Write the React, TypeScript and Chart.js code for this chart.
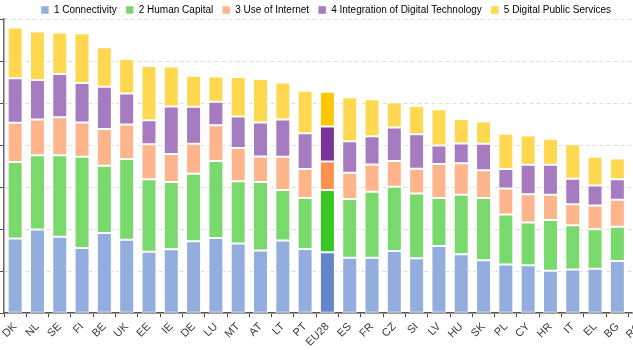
import React, { useEffect, useRef } from 'react';
import { Chart, registerables } from 'chart.js';

Chart.register(...registerables);

const categories = ['DK', 'NL', 'SE', 'FI', 'BE', 'UK', 'EE', 'IE', 'DE', 'LU', 'MT', 'AT', 'LT', 'PT', 'EU28', 'ES', 'FR', 'CZ', 'SI', 'LV', 'HU', 'SK', 'PL', 'CY', 'HR', 'IT', 'EL', 'BG', 'RO'];

const connectivity = [0.178, 0.199, 0.182, 0.155, 0.191, 0.175, 0.146, 0.152, 0.171, 0.179, 0.166, 0.149, 0.173, 0.153, 0.145, 0.132, 0.132, 0.148, 0.131, 0.160, 0.140, 0.126, 0.116, 0.114, 0.101, 0.104, 0.106, 0.124, 0.120];
const humanCapital = [0.182, 0.177, 0.194, 0.217, 0.160, 0.192, 0.173, 0.160, 0.161, 0.183, 0.148, 0.163, 0.120, 0.121, 0.148, 0.140, 0.157, 0.153, 0.154, 0.114, 0.142, 0.148, 0.119, 0.102, 0.121, 0.105, 0.094, 0.082, 0.070];
const useOfInternet = [0.093, 0.085, 0.090, 0.082, 0.087, 0.082, 0.083, 0.067, 0.071, 0.085, 0.079, 0.061, 0.079, 0.069, 0.068, 0.062, 0.065, 0.061, 0.059, 0.081, 0.075, 0.066, 0.062, 0.067, 0.060, 0.050, 0.056, 0.064, 0.050];
const integration = [0.106, 0.094, 0.103, 0.094, 0.101, 0.074, 0.057, 0.113, 0.088, 0.056, 0.075, 0.081, 0.089, 0.085, 0.083, 0.075, 0.067, 0.080, 0.082, 0.044, 0.047, 0.063, 0.046, 0.070, 0.071, 0.061, 0.048, 0.049, 0.040];
const publicServices = [0.121, 0.115, 0.099, 0.118, 0.094, 0.082, 0.129, 0.095, 0.074, 0.060, 0.094, 0.103, 0.088, 0.101, 0.083, 0.105, 0.088, 0.060, 0.067, 0.086, 0.058, 0.053, 0.084, 0.070, 0.062, 0.082, 0.068, 0.049, 0.040];

const seriesNames = ['1 Connectivity', '2 Human Capital', '3 Use of Internet', '4 Integration of Digital Technology', '5 Digital Public Services'];
const seriesValues = [connectivity, humanCapital, useOfInternet, integration, publicServices];
const baseColors = ['#93aede', '#7ad96c', '#ffb58b', '#a67bbf', '#ffd850'];
const highlightColors = ['#6386c9', '#39c824', '#ff924e', '#7c3396', '#ffc806'];
const highlightCategory = 'EU28';

const yMax = 0.7;
const yStep = 0.1;

const FONT = "Arial, 'Liberation Sans', Helvetica, sans-serif";

const legendFitPlugin = {
  id: 'legendFit',
  beforeLayout(chart: any) {
    const lg = chart.legend;
    if (lg && !lg.__patched) {
      const orig = lg.fit.bind(lg);
      lg.fit = function () {
        orig();
        this.height = 19;
      };
      lg.__patched = true;
    }
  },
  afterLayout(chart: any) {
    const lg = chart.legend;
    if (lg) {
      lg.top -= 4;
      lg.bottom -= 4;
    }
  },
};

export default function App() {
  const canvasRef = useRef<HTMLCanvasElement | null>(null);

  useEffect(() => {
    if (!canvasRef.current) return;
    Chart.defaults.font.family = FONT;
    const datasets = seriesNames.map((name, i) => ({
      label: name,
      data: seriesValues[i],
      backgroundColor: categories.map((c) => (c === highlightCategory ? highlightColors[i] : baseColors[i])),
      borderColor: '#ffffff',
      borderWidth: 1,
      borderSkipped: false as const,
      categoryPercentage: 0.8,
      barPercentage: 0.84,
    }));
    const chart = new Chart(canvasRef.current, {
      type: 'bar',
      data: { labels: categories, datasets },
      options: {
        animation: false,
        responsive: true,
        maintainAspectRatio: false,
        layout: { padding: 0 },
        plugins: {
          legend: {
            position: 'top',
            labels: {
              boxWidth: 8,
              boxHeight: 8,
              padding: 9,
              color: '#666',
              font: { size: 10, family: FONT },
              generateLabels: (ch: any) =>
                ch.data.datasets.map((ds: any, i: number) => ({
                  text: ds.label,
                  fillStyle: baseColors[i],
                  strokeStyle: '#ffffff',
                  lineWidth: 0.5,
                  hidden: false,
                  datasetIndex: i,
                })),
            },
          },
          tooltip: { enabled: false },
        },
        scales: {
          x: {
            stacked: true,
            grid: { display: true, drawOnChartArea: false, drawTicks: true, tickLength: 4, tickColor: '#444', offset: true },
            border: { display: true, color: '#555', width: 1.5 },
            ticks: { color: '#3a3a3a', font: { size: 11, family: FONT }, minRotation: 45, maxRotation: 45, autoSkip: false, padding: 3 },
          },
          y: {
            stacked: true,
            min: 0,
            max: yMax,
            ticks: { display: false, stepSize: yStep },
            grid: { color: '#dcdcdc', tickColor: '#555', tickLength: 4, drawTicks: true },
            border: { display: true, color: '#666', width: 1.5, dash: [4, 3] },
          },
        },
      },
      plugins: [legendFitPlugin],
    });
    return () => chart.destroy();
  }, []);

  return (
    <div style={{ position: 'fixed', left: 0, top: 0, width: 633, height: 350, overflow: 'hidden', background: '#fff' }}>
      <div style={{ position: 'relative', width: 652, height: 352 }}>
        <canvas ref={canvasRef} />
      </div>
    </div>
  );
}
